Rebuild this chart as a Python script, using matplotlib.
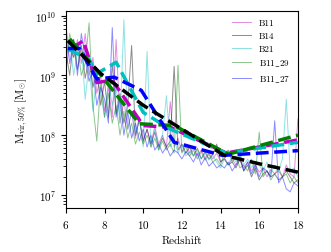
import numpy as np
import matplotlib
matplotlib.use("Agg")
import matplotlib.pyplot as plt

plt.rcParams["font.family"] = "serif"
plt.rcParams["font.serif"] = ["cmr10"]
plt.rcParams["mathtext.fontset"] = "cm"
plt.rcParams["axes.formatter.use_mathtext"] = True

# redshift grid for the individual runs
z = np.linspace(6, 18, 61)

# log10 of M_vir,50% for each run
b11 = [9.1, 9.5, 9.3, 9.6, 9.2, 9.7, 9.0, 9.3, 8.7, 9.0, 8.4, 8.8, 8.3, 9.6, 8.2, 8.6,
       8.1, 8.4, 7.95, 8.3, 7.9, 8.1, 7.85, 8.15, 7.85, 8.0, 7.8, 8.56, 7.8, 7.95, 7.72,
       7.85, 7.7, 7.8, 7.65, 7.75, 7.62, 7.7, 7.6, 7.7, 7.55, 7.62, 7.5, 7.6, 7.5, 7.58,
       7.45, 7.55, 7.4, 7.5, 7.38, 7.45, 7.3, 7.42, 7.35, 7.4, 7.3, 7.5, 7.35, 7.3, 8.27]
b14 = [9.4, 9.0, 9.6, 9.1, 9.5, 8.95, 9.3, 8.8, 9.1, 8.5, 8.9, 8.3, 9.2, 8.35, 8.7, 8.2,
       8.5, 9.5, 8.0, 8.25, 7.9, 8.1, 7.85, 8.05, 7.8, 7.95, 7.8, 7.9, 9.15, 7.75, 7.85,
       7.7, 7.8, 7.65, 7.78, 7.6, 7.72, 7.6, 7.68, 7.85, 7.55, 7.6, 7.5, 7.55, 7.45, 7.6,
       7.4, 7.5, 7.3, 7.45, 7.25, 7.35, 7.4, 7.3, 7.35, 7.25, 7.3, 7.4, 7.3, 7.2, 7.25]
b21 = [9.3, 9.6, 9.0, 9.4, 9.5, 8.6, 9.2, 8.4, 9.0, 8.7, 8.3, 8.9, 8.5, 8.8, 8.2, 9.93,
       8.1, 8.4, 8.0, 8.3, 7.8, 9.4, 7.8, 8.1, 7.75, 8.0, 8.66, 7.8, 7.95, 7.7, 7.85,
       7.65, 7.72, 7.65, 7.75, 7.6, 7.7, 7.58, 7.66, 7.55, 7.45, 7.6, 7.5, 7.65, 7.55,
       7.7, 7.5, 7.6, 7.45, 7.55, 7.5, 7.4, 7.55, 7.35, 7.5, 7.4, 7.6, 8.6, 7.4, 7.45, 7.3]
b11_29 = [9.2, 9.7, 9.3, 9.5, 9.0, 9.2, 9.88, 8.5, 7.9, 8.9, 8.3, 8.7, 8.2, 8.5, 8.0, 8.4,
          7.95, 8.2, 7.85, 8.05, 7.85, 8.0, 7.8, 7.95, 7.75, 7.9, 7.75, 7.85, 7.7, 9.17,
          7.7, 7.8, 7.65, 7.75, 7.6, 7.72, 7.58, 7.68, 7.55, 7.6, 7.5, 7.7, 7.75, 7.55,
          7.65, 7.45, 7.5, 7.4, 7.6, 7.35, 8.05, 7.3, 7.4, 7.25, 7.35, 7.45, 7.3, 7.35,
          7.2, 7.3, 7.2]
b11_27 = [9.85, 9.2, 9.6, 9.0, 9.7, 9.3, 8.9, 9.1, 8.5, 8.8, 8.6, 8.2, 9.8, 8.3, 8.6, 8.0,
          8.4, 7.95, 8.2, 7.9, 8.1, 7.8, 8.0, 7.75, 7.85, 7.7, 7.8, 7.65, 7.75, 7.7, 7.6,
          7.72, 7.65, 7.55, 7.7, 7.5, 7.62, 7.48, 7.55, 7.45, 7.5, 7.45, 7.55, 7.4, 7.5,
          7.65, 7.4, 7.55, 7.35, 7.5, 7.3, 7.45, 7.4, 7.3, 8.24, 7.2, 7.3, 7.1, 7.05, 7.2, 7.15]

# smoothed fits (dashed)
fit_m_z = [6.3, 6.9, 7.6, 8.4, 10.0, 11.4, 14.3, 18.0]
fit_m = [9.45, 9.58, 8.88, 8.92, 8.16, 8.13, 7.7, 7.92]
fit_c_z = [6.1, 7.2, 7.6, 8.6, 10.0, 11.4, 14.3, 18.0]
fit_c = [9.44, 9.27, 9.03, 9.22, 8.38, 8.1, 7.7, 7.88]
fit_g_z = [6.2, 7.7, 9.8, 11.6, 14.4, 18.0]
fit_g = [9.61, 9.05, 8.19, 8.16, 7.68, 8.0]
fit_b_z = [6.1, 6.7, 7.6, 8.5, 9.9, 11.6, 14.1, 18.0]
fit_b = [9.45, 9.45, 8.94, 8.97, 8.75, 7.88, 7.66, 7.74]
fit_k_z = [6.1, 7.8, 10.0, 12.25, 14.2, 16.0, 18.0]
fit_k = [9.58, 9.03, 8.5, 8.05, 7.66, 7.52, 7.38]

fig = plt.figure(figsize=(3.31, 2.53), dpi=100)
ax = fig.add_axes([0.199, 0.174, 0.701, 0.779])

runs = [(b11, "m", "B11"), (b14, "k", "B14"), (b21, "c", "B21"),
        (b11_29, "g", r"B11$\_$29"), (b11_27, "b", r"B11$\_$27")]
for vals, col, lab in runs:
    ax.plot(z, 10 ** np.array(vals), color=col, alpha=0.45, lw=0.7, label=lab)

fits = [(fit_m_z, fit_m, "m"), (fit_c_z, fit_c, "c"), (fit_g_z, fit_g, "g"),
        (fit_b_z, fit_b, "b"), (fit_k_z, fit_k, "k")]
for zz, vals, col in fits:
    ax.plot(zz, 10 ** np.array(vals), color=col, ls="--", lw=2.5)

ax.set_yscale("log")
ax.set_xlim(6, 18)
ax.set_ylim(10 ** 6.78, 10 ** 10.08)
ax.set_xticks([6, 8, 10, 12, 14, 16, 18])
ax.tick_params(labelsize=8)
ax.set_xlabel("Redshift", fontsize=8)
ax.set_ylabel(r"$\mathrm{M_{vir,50\%}\ [M_{\odot}]}$", fontsize=8)
ax.legend(loc="upper right", frameon=False, fontsize=6.5, handlelength=2.2)

plt.savefig("out.png", dpi=100)
